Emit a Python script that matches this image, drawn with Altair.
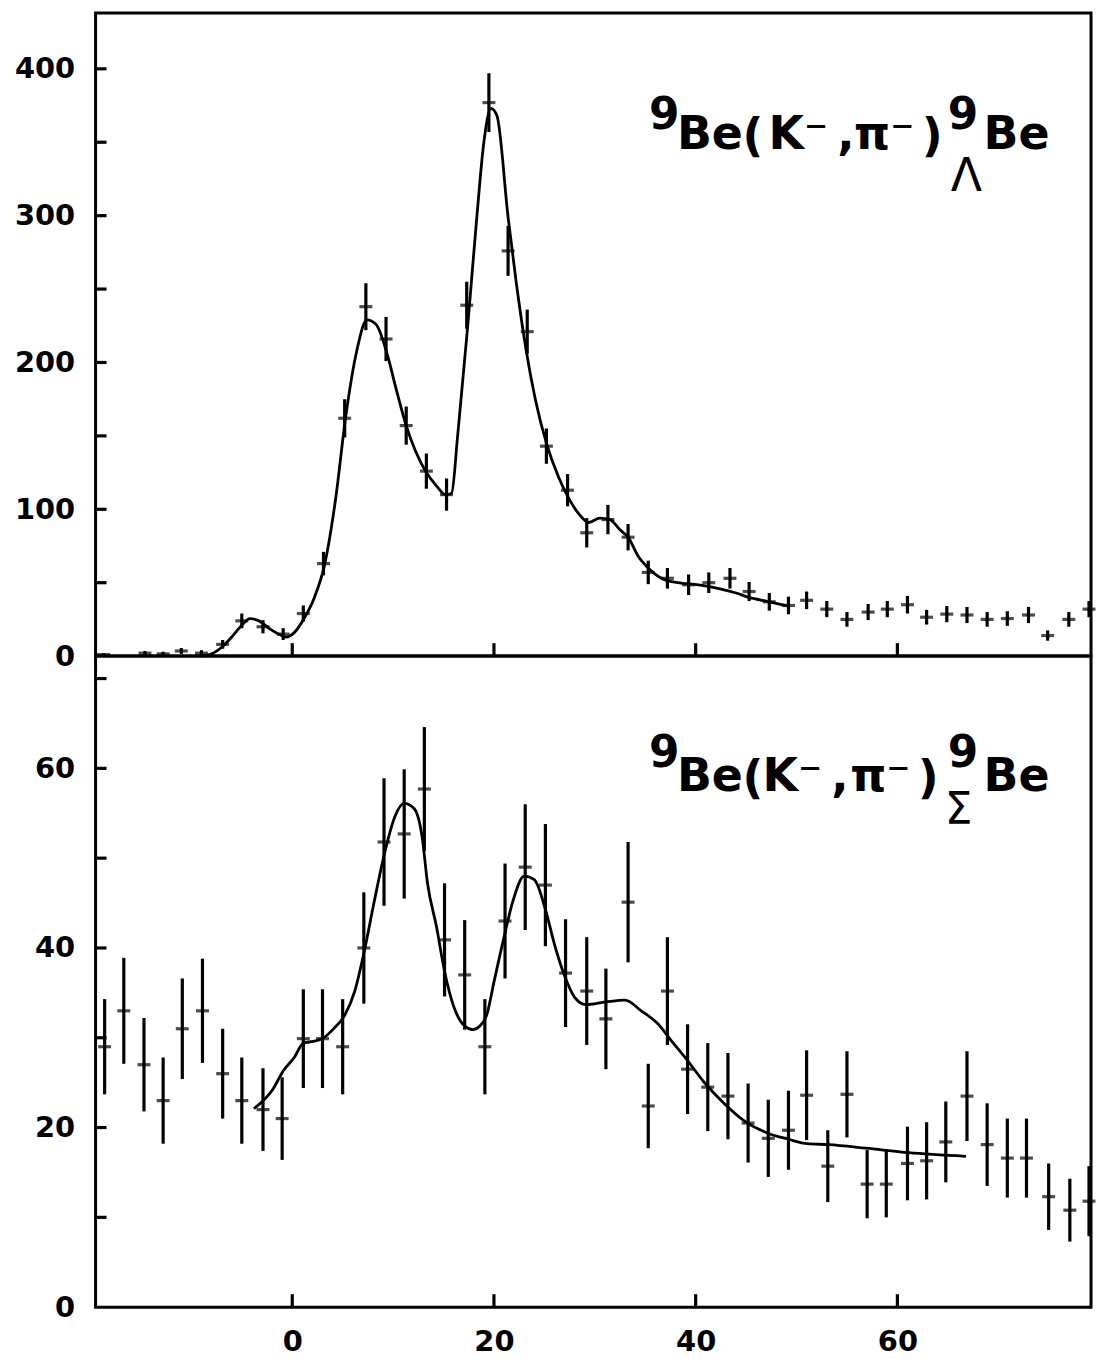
import altair as alt
import pandas as pd

# ---------------- data ----------------
# upper panel: 9Be(K-,pi-) 9_Lambda Be
lam_x = [-18.7, -14.6, -12.8, -11.0, -9.0, -6.9, -5.0, -2.9, -0.9, 1.1, 3.1, 5.2, 7.3, 9.3,
         11.3, 13.3, 15.3, 17.3, 19.5, 21.4, 23.3, 25.2, 27.3, 29.2, 31.3, 33.3, 35.3, 37.2,
         39.3, 41.3, 43.4, 45.3, 47.3, 49.2, 51.0, 53.0, 55.0, 57.1, 59.0, 61.0, 62.9, 64.9,
         66.9, 68.9, 70.9, 73.0, 74.9, 77.0, 79.0]
lam_y = [1, 2, 1.5, 3.5, 2, 8, 24, 20, 15, 29, 63, 162, 238, 216,
         157, 126, 110, 239, 377, 276, 221, 143, 113, 84, 93, 81, 57, 53,
         48.6, 50, 53, 44, 37, 34.5, 38, 32, 25, 30, 32, 35, 26.5, 28.6,
         28, 25, 25.6, 28, 14, 25, 32]
lam_err = [1, 1.5, 1.5, 2, 2, 3, 5, 4.5, 4, 5.5, 8, 13, 16, 15,
           13, 12, 11, 16, 20, 17, 15, 12, 11, 10, 10, 9, 8, 7,
           7, 7, 7, 6.5, 6, 6, 6, 5.5, 5, 5.5, 5.5, 6, 5, 5.5,
           5.5, 5, 5, 5.5, 3.5, 5, 5.5]
lam_fit_x = [-9.1, -8.0, -7.0, -6.0, -5.0, -4.2, -3.3, -2.3, -1.2, -0.6, 0.2, 1.2, 2.2, 3.2,
             4.3, 5.3, 6.4, 7.4, 8.3, 9.4, 10.3, 11.3, 12.2, 13.3, 14.3, 15.2, 15.8, 16.4,
             17.4, 18.3, 19.0, 19.7, 20.3, 21.4, 22.2, 23.2, 24.1, 25.2, 26.4, 27.3, 28.4,
             29.4, 30.5, 31.5, 32.5, 33.3, 34.3, 35.3, 36.6, 38.2, 40.3, 42.3, 44.0, 45.3,
             47.3, 49.2]
lam_fit_y = [0, 1.5, 6, 13, 21, 25.5, 24, 19, 14.5, 13, 16, 26, 40, 62,
             107, 163, 208, 229, 226, 206, 182, 157, 140, 125, 116, 110, 111, 150,
             225, 299, 350, 373, 368, 299, 255, 208, 175, 145, 122, 109, 97,
             91, 94, 93, 86, 81, 68, 60, 53, 50, 48.6, 46, 43, 40,
             37, 34]

# lower panel: 9Be(K-,pi-) 9_Sigma Be
sig_x = [-18.6, -16.7, -14.7, -12.8, -10.9, -8.9, -6.9, -5.0, -2.9, -1.0, 1.1, 3.0, 5.0, 7.1,
         9.1, 11.1, 13.1, 15.1, 17.1, 19.1, 21.1, 23.1, 25.1, 27.1, 29.2, 31.1, 33.3, 35.3,
         37.2, 39.2, 41.2, 43.2, 45.2, 47.2, 49.2, 51.0, 53.1, 55.0, 57.0, 58.9, 61.0, 62.9,
         64.8, 66.9, 68.9, 70.9, 72.8, 75.0, 77.1, 79.0]
sig_y = [29, 33, 27, 23, 31, 33, 26, 23, 22, 21, 29.9, 29.9, 29, 40,
         51.8, 52.7, 57.7, 40.9, 37, 29, 43, 49, 47, 37.2, 35.2, 32.1, 45.1, 22.4,
         35.2, 26.5, 24.5, 23.5, 20.5, 18.8, 19.7, 23.6, 15.7, 23.7, 13.7, 13.7, 16, 16.3,
         18.4, 23.5, 18.1, 16.6, 16.6, 12.3, 10.8, 11.8]
sig_err = [5.3, 5.9, 5.2, 4.8, 5.6, 5.8, 5.0, 4.8, 4.6, 4.6, 5.5, 5.5, 5.3, 6.2,
           7.1, 7.2, 6.9, 6.3, 6.1, 5.3, 6.4, 7.0, 6.8, 6.0, 6.0, 5.6, 6.7, 4.7,
           6.0, 5.0, 4.9, 4.8, 4.4, 4.3, 4.4, 5.0, 4.0, 4.8, 3.8, 3.7, 4.1, 4.3,
           4.5, 5.0, 4.6, 4.4, 4.4, 3.7, 3.5, 3.9]
sig_fit_x = [-3.8, -1.9, -0.9, 0.2, 1.1, 2.1, 3.0, 4.1, 5.2, 6.2, 7.1, 8.1, 9.1, 10.2,
             11.1, 12.1, 12.9, 13.4, 14.3, 15.1, 16.0, 17.1, 17.9, 18.6, 19.3, 20.0, 21.0,
             21.9, 23.0, 24.0, 25.1, 26.0, 27.0, 28.0, 29.1, 31.1, 33.0, 34.6, 36.3, 37.5,
             39.1, 40.8, 42.9, 45.0, 47.1, 49.2, 51.1, 53.2, 56.9, 61.1, 66.8]
sig_fit_y = [22.1, 24.3, 26.3, 27.8, 29.4, 29.6, 29.9, 31.0, 32.5, 35.2, 39.4, 45.0, 50.3, 54.7,
             56.1, 55.5, 52.2, 47.3, 42.4, 37.4, 33.5, 31.3, 30.9, 31.3, 32.6, 36.2, 41.2,
             45.3, 48.0, 47.6, 44.3, 40.4, 36.9, 34.5, 33.7, 34.0, 34.2, 33.0, 31.5, 29.8,
             27.6, 25.1, 22.6, 20.6, 19.4, 18.7, 18.2, 18.1, 17.7, 17.2, 16.8]

x_label_values = [0, 20, 40, 60]
lam_label_values = [0, 100, 200, 300, 400]
lam_tick_values = [50, 100, 150, 200, 250, 300, 350, 400]
sig_label_values = [0, 20, 40, 60]
sig_tick_values = [10, 20, 30, 40, 50, 60, 70]

# ---------------- layout / style ----------------
W = 1000
H_TOP = 646
H_BOT = 654
X_DOMAIN = [-19.5, 79.2]
LAM_DOMAIN = [0, 438]
SIG_DOMAIN = [0, 72.5]
FONT = "DejaVu Sans"
LW = 3.2
CW = 2.8
INK = "black"


def text_layer(t, px, py, size, weight="bold"):
    return alt.Chart(pd.DataFrame({"t": [t]})).mark_text(
        font=FONT, fontSize=size, fontWeight=weight, color=INK,
        align="left", baseline="alphabetic"
    ).encode(x=alt.value(px), y=alt.value(py), text="t:N")


def panel(xs, ys, errs, fx, fy, ydom, ylabels, yticks, h, show_x, texts):
    pts = pd.DataFrame({"x": xs, "y": ys,
                        "lo": [a - b for a, b in zip(ys, errs)],
                        "hi": [a + b for a, b in zip(ys, errs)]})
    fit = pd.DataFrame({"x": fx, "y": fy})
    xsc = alt.Scale(domain=X_DOMAIN, nice=False, zero=False)
    ysc = alt.Scale(domain=ydom, nice=False, zero=False)
    if show_x:
        xaxis = alt.Axis(values=x_label_values, ticks=False, domain=False, grid=False,
                         labelFont=FONT, labelFontSize=29, labelFontWeight="bold",
                         labelColor=INK, labelPadding=21, title=None, format="d")
    else:
        xaxis = None
    yaxis = alt.Axis(values=ylabels, ticks=False, domain=False, grid=False,
                     labelFont=FONT, labelFontSize=29, labelFontWeight="bold",
                     labelColor=INK, labelPadding=21, title=None, format="d")

    bars = alt.Chart(pts).mark_rule(color=INK, strokeWidth=LW).encode(
        x=alt.X("x:Q", scale=xsc, axis=xaxis),
        y=alt.Y("lo:Q", scale=ysc, axis=yaxis), y2="hi:Q")
    dashes = alt.Chart(pts).mark_tick(color=INK, orient="horizontal", size=13,
                                      thickness=LW).encode(
        x=alt.X("x:Q", scale=xsc, axis=xaxis),
        y=alt.Y("y:Q", scale=ysc, axis=yaxis))
    curve = alt.Chart(fit).mark_line(color=INK, strokeWidth=CW,
                                     interpolate="monotone").encode(
        x=alt.X("x:Q", scale=xsc, axis=xaxis),
        y=alt.Y("y:Q", scale=ysc, axis=yaxis))
    ytk = alt.Chart(pd.DataFrame({"v": yticks})).mark_rule(
        color=INK, strokeWidth=LW).encode(
        y=alt.Y("v:Q", scale=ysc, axis=yaxis), x=alt.value(0), x2=alt.value(11))
    xtk = alt.Chart(pd.DataFrame({"v": x_label_values})).mark_rule(
        color=INK, strokeWidth=LW).encode(
        x=alt.X("v:Q", scale=xsc, axis=xaxis), y=alt.value(h), y2=alt.value(h - 13))
    layers = [bars, dashes, curve, ytk, xtk] + [text_layer(*t) for t in texts]
    return alt.layer(*layers).properties(width=W, height=h)


# annotation pieces: (text, x, baseline y, size[, weight]) in panel pixels
lam_texts = [
    ("9", 556, 116, 44), ("Be", 584, 137, 46), ("(", 650, 139, 46),
    ("K\u207b", 676, 137, 46), (",", 745, 137, 46), ("\u03c0\u207b", 762, 137, 46),
    (")", 830, 139, 46), ("9", 856, 116, 44),
    ("\u039b", 859, 179, 46, "normal"), ("Be", 892, 137, 46),
]
sig_texts = [
    ("9", 556, 111, 44), ("Be", 584, 136, 46), ("(", 650, 138, 46),
    ("K\u207b", 670, 136, 46), (",", 739, 136, 46), ("\u03c0\u207b", 758, 136, 46),
    (")", 826, 138, 46), ("9", 856, 111, 44),
    ("\u03a3", 853, 169, 44, "normal"), ("Be", 892, 136, 46),
]

top = panel(lam_x, lam_y, lam_err, lam_fit_x, lam_fit_y, LAM_DOMAIN,
            lam_label_values, lam_tick_values, H_TOP, False, lam_texts)
bottom = panel(sig_x, sig_y, sig_err, sig_fit_x, sig_fit_y, SIG_DOMAIN,
               sig_label_values, sig_tick_values, H_BOT, True, sig_texts)

chart = alt.vconcat(top, bottom, spacing=0, bounds="flush").properties(
    padding={"left": 12, "top": 8, "right": 0, "bottom": 0}
).configure_view(stroke=INK, strokeWidth=3)

chart.save("out.html", embed_options={"renderer": "svg", "actions": False})
